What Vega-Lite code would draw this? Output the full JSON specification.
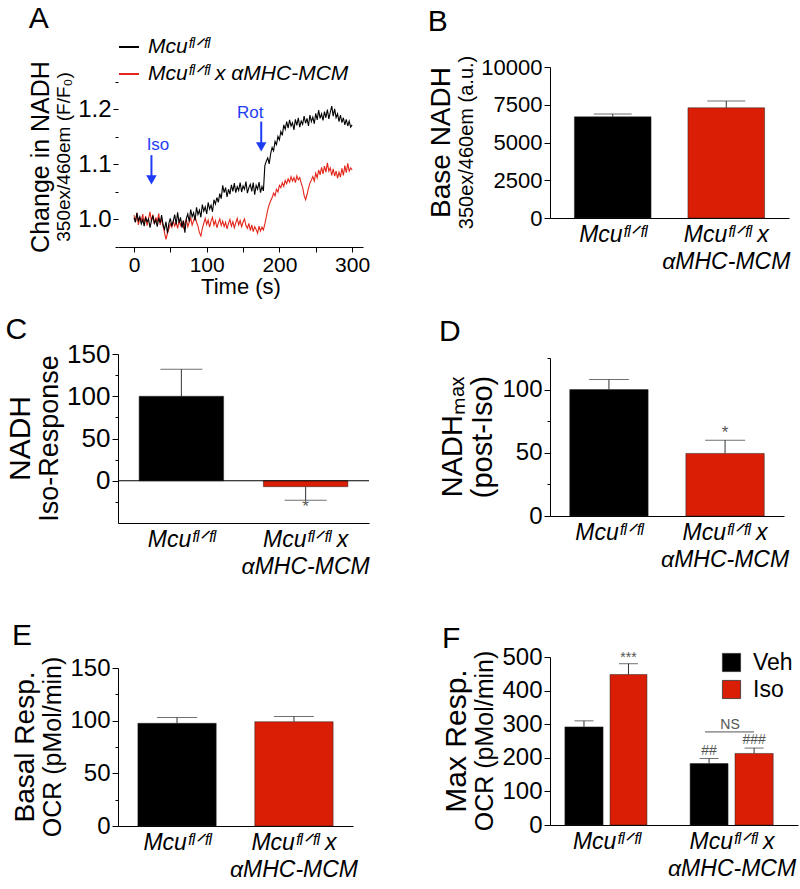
{
 "$schema": "https://vega.github.io/schema/vega-lite/v6.json",
 "background": "white",
 "padding": {"left": 5, "top": 4, "right": 5, "bottom": 0},
 "spacing": 57,
 "resolve": {"scale": {"color": "independent", "x": "independent", "y": "independent"}, "legend": {"color": "independent"}},
 "hconcat": [
  {
   "resolve": {"scale": {"color": "independent", "x": "independent", "y": "independent"}, "legend": {"color": "independent"}},
   "spacing": 18,
   "vconcat": [
    {
     "title": {"text": "A", "anchor": "start", "fontSize": 30, "offset": 2},
     "vconcat": [{
      "width": 245, "height": 180,
      "title": {"text": "Change in NADH", "subtitle": "350ex/460em (F/F₀)", "orient": "left", "anchor": "middle", "fontSize": 25, "subtitleFontSize": 19, "offset": 4, "subtitlePadding": 1},
      "layer": [
       {
        "data": {"name": "trace"},
        "transform": [{"fold": ["r", "b"], "as": ["k", "v"]}],
        "mark": {"type": "line", "strokeWidth": 1.1},
        "encoding": {
         "x": {"field": "t", "type": "quantitative", "scale": {"domain": [-22, 315], "nice": false},
               "axis": {"values": [0, 50, 100, 150, 200, 250, 300], "tickCount": 50, "labelExpr": "datum.value % 100 === 0 ? datum.label : ''", "labelOverlap": false,
                        "tickSize": 5, "labelFontSize": 21, "title": "Time (s)", "titleFontSize": 22, "titlePadding": 1, "labelPadding": 2}},
         "y": {"field": "v", "type": "quantitative", "scale": {"domain": [0.95, 1.27727], "nice": false, "zero": false},
               "axis": {"values": [0.95, 1.0, 1.05, 1.1, 1.15, 1.2, 1.25], "tickCount": 50, "format": ".1f", "domain": false, "labelOverlap": false,
                        "labelExpr": "(datum.value > 0.97 && datum.value < 1.23 && abs(datum.value*10 - round(datum.value*10)) < 0.001) ? datum.label : ''",
                        "tickSize": {"condition": {"test": "abs(datum.value*10 - round(datum.value*10)) > 0.001", "value": 3}, "value": 5},
                        "labelFontSize": 24, "title": null}},
         "color": {"field": "k", "type": "nominal", "scale": {"domain": ["b", "r"], "range": ["#000000", "#e3261a"]},
                   "legend": {"title": null, "orient": "top", "direction": "vertical", "symbolType": "stroke", "symbolSize": 400, "symbolStrokeWidth": 2,
                              "labelFontSize": 21, "labelFontStyle": "italic", "labelOffset": 8, "rowPadding": 6, "padding": 0, "offset": -23, "labelLimit": 400,
                              "labelExpr": "datum.value == 'b' ? 'Mcuᶠˡᐟᶠˡ' : 'Mcuᶠˡᐟᶠˡ x αMHC-MCM'"}}
        }
       },
       {
        "mark": {"type": "rule", "color": "#000", "strokeWidth": 1},
        "encoding": {"x": {"datum": -22, "type": "quantitative"}, "y": {"datum": 0.95, "type": "quantitative"}, "y2": {"datum": 1.25}}
       },
       {
        "data": {"name": "arrows"},
        "mark": {"type": "rule", "color": "#1f3cf5", "strokeWidth": 2},
        "encoding": {"x": {"field": "t", "type": "quantitative"}, "y": {"field": "y1", "type": "quantitative"}, "y2": {"field": "y2"}}
       },
       {
        "data": {"name": "arrows"},
        "mark": {"type": "point", "shape": "triangle-down", "filled": true, "color": "#1f3cf5", "size": 110, "opacity": 1},
        "encoding": {"x": {"field": "t", "type": "quantitative"}, "y": {"field": "y2", "type": "quantitative"}}
       },
       {
        "data": {"name": "arrows"},
        "mark": {"type": "text", "color": "#1f3cf5", "fontSize": 17, "align": "center", "baseline": "middle"},
        "encoding": {"x": {"field": "tx", "type": "quantitative"}, "y": {"field": "ty", "type": "quantitative"}, "text": {"field": "label"}}
       }
      ]
     }]
    },
    {
     "resolve": {"scale": {"color": "independent", "x": "independent", "y": "independent"}, "legend": {"color": "independent"}},
     "spacing": 43,
     "vconcat": [
      {
       "title": {"text": "C", "anchor": "start", "fontSize": 30, "offset": -4},
       "vconcat": [{
        "width": 251, "height": 169,
        "title": {"text": "NADH", "subtitle": "Iso-Response", "orient": "left", "anchor": "middle", "fontSize": 30, "subtitleFontSize": 27, "offset": 4, "subtitlePadding": 1},
        "data": {"name": "C"},
        "layer": [
         {
          "mark": {"type": "bar", "stroke": "#222", "strokeWidth": 0.5},
          "encoding": {
           "x": {"field": "g", "type": "nominal", "scale": {"paddingInner": 0.32, "paddingOuter": 0.17},
                 "axis": {"title": null, "ticks": false, "labelAngle": 0, "labelFontSize": 23, "labelFontStyle": "italic", "labelPadding": 5, "labelBaseline": "top", "labelLineHeight": 27,
                          "labelExpr": "datum.value == 'a' ? 'Mcuᶠˡᐟᶠˡ' : ['Mcuᶠˡᐟᶠˡ x', 'αMHC-MCM']"}},
           "y": {"field": "m", "type": "quantitative", "scale": {"domain": [-50, 150], "nice": false},
                 "axis": {"values": [-25, 0, 25, 50, 75, 100, 125, 150], "tickCount": 50, "labelExpr": "datum.value % 50 === 0 ? datum.label : ''", "labelOverlap": false,
                          "tickSize": {"condition": {"test": "datum.value % 50 !== 0", "value": 3}, "value": 6},
                          "labelFontSize": 26, "title": null}},
           "color": {"field": "g", "type": "nominal", "scale": {"domain": ["a", "b"], "range": ["#000000", "#da1e05"]}, "legend": null}
          }
         },
         {
          "mark": {"type": "rule", "color": "#333", "strokeWidth": 1},
          "encoding": {"x": {"field": "g", "type": "nominal"}, "y": {"field": "m", "type": "quantitative"}, "y2": {"field": "e"}}
         },
         {
          "mark": {"type": "tick", "orient": "horizontal", "color": "#333", "thickness": 1, "size": 42},
          "encoding": {"x": {"field": "g", "type": "nominal"}, "y": {"field": "e", "type": "quantitative"}}
         },
         {
          "data": {"values": [{"g": "b", "y": -31, "s": "*"}]},
          "mark": {"type": "text", "fontSize": 17, "color": "#555", "baseline": "middle"},
          "encoding": {"x": {"field": "g", "type": "nominal"}, "y": {"field": "y", "type": "quantitative"}, "text": {"field": "s"}}
         },
         {
          "data": {"values": [{"z": 0}]},
          "mark": {"type": "rule", "color": "#000", "strokeWidth": 1},
          "encoding": {"x": {"datum": 0, "type": "quantitative", "scale": null}, "x2": {"datum": 251}, "y": {"field": "z", "type": "quantitative"}}
         }
        ]
       }]
      },
      {
       "title": {"text": "E", "anchor": "start", "fontSize": 30, "offset": 5},
       "vconcat": [{
        "width": 235, "height": 158,
        "title": {"text": "Basal Resp.", "subtitle": "OCR (pMol/min)", "orient": "left", "anchor": "middle", "fontSize": 28, "subtitleFontSize": 25, "offset": 4, "subtitlePadding": 1},
        "data": {"name": "E"},
        "layer": [
         {
          "mark": {"type": "bar", "stroke": "#222", "strokeWidth": 0.5},
          "encoding": {
           "x": {"field": "g", "type": "nominal", "scale": {"paddingInner": 0.33, "paddingOuter": 0.17},
                 "axis": {"title": null, "ticks": false, "labelAngle": 0, "labelFontSize": 23, "labelFontStyle": "italic", "labelPadding": 5, "labelBaseline": "top", "labelLineHeight": 27,
                          "labelExpr": "datum.value == 'a' ? 'Mcuᶠˡᐟᶠˡ' : ['Mcuᶠˡᐟᶠˡ x', 'αMHC-MCM']"}},
           "y": {"field": "m", "type": "quantitative", "scale": {"domain": [0, 150], "nice": false},
                 "axis": {"values": [0, 25, 50, 75, 100, 125, 150], "tickCount": 50, "labelExpr": "datum.value % 50 === 0 ? datum.label : ''", "labelOverlap": false,
                          "tickSize": {"condition": {"test": "datum.value % 50 !== 0", "value": 3}, "value": 6},
                          "labelFontSize": 24, "title": null}},
           "color": {"field": "g", "type": "nominal", "scale": {"domain": ["a", "b"], "range": ["#000000", "#da1e05"]}, "legend": null}
          }
         },
         {
          "mark": {"type": "rule", "color": "#333", "strokeWidth": 1},
          "encoding": {"x": {"field": "g", "type": "nominal"}, "y": {"field": "m", "type": "quantitative"}, "y2": {"field": "e"}}
         },
         {
          "mark": {"type": "tick", "orient": "horizontal", "color": "#333", "thickness": 1, "size": 40},
          "encoding": {"x": {"field": "g", "type": "nominal"}, "y": {"field": "e", "type": "quantitative"}}
         }
        ]
       }]
      }
     ]
    }
   ]
  },
  {
   "resolve": {"scale": {"color": "independent", "x": "independent", "y": "independent"}, "legend": {"color": "independent"}},
   "spacing": 44,
   "vconcat": [
    {
     "title": {"text": "B", "anchor": "start", "fontSize": 30, "offset": 19},
     "vconcat": [{
      "width": 239, "height": 151,
      "title": {"text": "Base NADH", "subtitle": "350ex/460em (a.u.)", "orient": "left", "anchor": "middle", "fontSize": 28, "subtitleFontSize": 20, "offset": 4, "subtitlePadding": 1},
      "data": {"name": "B"},
      "layer": [
       {
        "mark": {"type": "bar", "stroke": "#222", "strokeWidth": 0.5},
        "encoding": {
         "x": {"field": "g", "type": "nominal", "scale": {"paddingInner": 0.325, "paddingOuter": 0.215},
               "axis": {"title": null, "ticks": false, "labelAngle": 0, "labelFontSize": 23, "labelFontStyle": "italic", "labelPadding": 5, "labelBaseline": "top", "labelLineHeight": 27,
                        "labelExpr": "datum.value == 'a' ? 'Mcuᶠˡᐟᶠˡ' : ['Mcuᶠˡᐟᶠˡ x', 'αMHC-MCM']"}},
         "y": {"field": "m", "type": "quantitative", "scale": {"domain": [0, 10000], "nice": false},
               "axis": {"values": [0, 2500, 5000, 7500, 10000], "tickCount": 50, "tickSize": 6, "labelFontSize": 22, "title": null, "format": "d", "labelOverlap": false}},
         "color": {"field": "g", "type": "nominal", "scale": {"domain": ["a", "b"], "range": ["#000000", "#da1e05"]}, "legend": null}
        }
       },
       {
        "mark": {"type": "rule", "color": "#333", "strokeWidth": 1},
        "encoding": {"x": {"field": "g", "type": "nominal"}, "y": {"field": "m", "type": "quantitative"}, "y2": {"field": "e"}}
       },
       {
        "mark": {"type": "tick", "orient": "horizontal", "color": "#333", "thickness": 1, "size": 38},
        "encoding": {"x": {"field": "g", "type": "nominal"}, "y": {"field": "e", "type": "quantitative"}}
       }
      ]
     }]
    },
    {
     "resolve": {"scale": {"color": "independent", "x": "independent", "y": "independent"}, "legend": {"color": "independent"}},
     "spacing": 53,
     "vconcat": [
      {
       "title": {"text": "D", "anchor": "start", "fontSize": 30, "offset": -1},
       "vconcat": [{
        "width": 234, "height": 158,
        "title": {"text": "NADHₘₐₓ", "subtitle": "(post-Iso)", "orient": "left", "anchor": "middle", "fontSize": 29, "subtitleFontSize": 29, "offset": 4, "subtitlePadding": 1},
        "data": {"name": "D"},
        "layer": [
         {
          "mark": {"type": "bar", "stroke": "#222", "strokeWidth": 0.5},
          "encoding": {
           "x": {"field": "g", "type": "nominal", "scale": {"paddingInner": 0.325, "paddingOuter": 0.17},
                 "axis": {"title": null, "ticks": false, "labelAngle": 0, "labelFontSize": 23, "labelFontStyle": "italic", "labelPadding": 5, "labelBaseline": "top", "labelLineHeight": 27,
                          "labelExpr": "datum.value == 'a' ? 'Mcuᶠˡᐟᶠˡ' : ['Mcuᶠˡᐟᶠˡ x', 'αMHC-MCM']"}},
           "y": {"field": "m", "type": "quantitative", "scale": {"domain": [0, 125], "nice": false},
                 "axis": {"values": [0, 25, 50, 75, 100, 125], "tickCount": 50, "labelExpr": "datum.value % 50 === 0 ? datum.label : ''", "labelOverlap": false,
                          "tickSize": {"condition": {"test": "datum.value % 50 !== 0", "value": 3}, "value": 6},
                          "labelFontSize": 24, "title": null}},
           "color": {"field": "g", "type": "nominal", "scale": {"domain": ["a", "b"], "range": ["#000000", "#da1e05"]}, "legend": null}
          }
         },
         {
          "mark": {"type": "rule", "color": "#333", "strokeWidth": 1},
          "encoding": {"x": {"field": "g", "type": "nominal"}, "y": {"field": "m", "type": "quantitative"}, "y2": {"field": "e"}}
         },
         {
          "mark": {"type": "tick", "orient": "horizontal", "color": "#333", "thickness": 1, "size": 40},
          "encoding": {"x": {"field": "g", "type": "nominal"}, "y": {"field": "e", "type": "quantitative"}}
         },
         {
          "data": {"values": [{"g": "b", "y": 66, "s": "*"}]},
          "mark": {"type": "text", "fontSize": 17, "color": "#555", "baseline": "middle"},
          "encoding": {"x": {"field": "g", "type": "nominal"}, "y": {"field": "y", "type": "quantitative"}, "text": {"field": "s"}}
         }
        ]
       }]
      },
      {
       "title": {"text": "F", "anchor": "start", "fontSize": 30, "offset": -9},
       "vconcat": [{
        "width": 248, "height": 168,
        "title": {"text": "Max Resp.", "subtitle": "OCR (pMol/min)", "orient": "left", "anchor": "middle", "fontSize": 30, "subtitleFontSize": 25, "offset": 4, "subtitlePadding": 1},
        "data": {"name": "F"},
        "layer": [
         {
          "mark": {"type": "bar", "stroke": "#222", "strokeWidth": 0.5},
          "encoding": {
           "x": {"field": "x0", "type": "quantitative", "scale": {"domain": [0, 10], "nice": false},
                 "axis": {"title": null, "ticks": false, "grid": false, "values": [2.26, 7.32], "tickCount": 50, "labelAngle": 0, "labelFontSize": 23, "labelFontStyle": "italic", "labelPadding": 5, "labelBaseline": "top", "labelLineHeight": 27, "labelOverlap": false,
                          "labelExpr": "datum.value < 5 ? 'Mcuᶠˡᐟᶠˡ' : ['Mcuᶠˡᐟᶠˡ x', 'αMHC-MCM']"}},
           "x2": {"field": "x1"},
           "y": {"field": "m", "type": "quantitative", "scale": {"domain": [0, 500], "nice": false},
                 "axis": {"values": [0, 100, 200, 300, 400, 500], "tickCount": 50, "tickSize": 6, "labelFontSize": 24, "title": null, "labelOverlap": false}},
           "y2": {"datum": 0},
           "color": {"field": "c", "type": "nominal", "scale": {"domain": ["Veh", "Iso"], "range": ["#000000", "#da1e05"]},
                     "legend": {"title": null, "orient": "none", "legendX": 170, "legendY": -6, "direction": "vertical", "symbolType": "square", "symbolSize": 330,
                                "symbolStrokeColor": "#333", "symbolStrokeWidth": 0.8, "labelFontSize": 23, "labelOffset": 10, "rowPadding": 3, "padding": 0}}
          }
         },
         {
          "mark": {"type": "rule", "color": "#333", "strokeWidth": 1},
          "encoding": {"x": {"field": "xc", "type": "quantitative"}, "y": {"field": "m", "type": "quantitative"}, "y2": {"field": "e"}}
         },
         {
          "mark": {"type": "tick", "orient": "horizontal", "color": "#333", "thickness": 1, "size": 19},
          "encoding": {"x": {"field": "xc", "type": "quantitative"}, "y": {"field": "e", "type": "quantitative"}}
         },
         {
          "data": {"name": "Fnote"},
          "mark": {"type": "text", "fontSize": 14, "color": "#555", "baseline": "middle"},
          "encoding": {"x": {"field": "xc", "type": "quantitative"}, "y": {"field": "y", "type": "quantitative"}, "text": {"field": "s"}}
         },
         {
          "data": {"values": [{"xa": 6.25, "xb": 8.23, "y": 277}]},
          "mark": {"type": "rule", "color": "#555", "strokeWidth": 1},
          "encoding": {"x": {"field": "xa", "type": "quantitative"}, "x2": {"field": "xb"}, "y": {"field": "y", "type": "quantitative"}}
         }
        ]
       }]
      }
     ]
    }
   ]
  }
 ],
 "datasets": {
  "B": [{"g": "a", "m": 6700, "e": 6880}, {"g": "b", "m": 7300, "e": 7750}],
  "C": [{"g": "a", "m": 100, "e": 132}, {"g": "b", "m": -7, "e": -23}],
  "D": [{"g": "a", "m": 100, "e": 108}, {"g": "b", "m": 49.5, "e": 60}],
  "E": [{"g": "a", "m": 97.5, "e": 103}, {"g": "b", "m": 99, "e": 104}],
  "F": [
   {"c": "Veh", "x0": 0.6, "x1": 2.14, "xc": 1.37, "m": 292, "e": 310},
   {"c": "Iso", "x0": 2.42, "x1": 3.91, "xc": 3.165, "m": 448, "e": 480},
   {"c": "Veh", "x0": 5.65, "x1": 7.18, "xc": 6.415, "m": 183, "e": 198},
   {"c": "Iso", "x0": 7.46, "x1": 9.0, "xc": 8.23, "m": 213, "e": 229}
  ],
  "Fnote": [
   {"xc": 3.165, "y": 496, "s": "***"},
   {"xc": 6.415, "y": 220, "s": "##"},
   {"xc": 8.23, "y": 253, "s": "###"},
   {"xc": 7.26, "y": 298, "s": "NS"}
  ],
  "arrows": [
   {"t": 24, "y1": 1.117, "y2": 1.072, "tx": 33, "ty": 1.136, "label": "Iso"},
   {"t": 175, "y1": 1.178, "y2": 1.132, "tx": 160, "ty": 1.193, "label": "Rot"}
  ],
  "trace": [
   {"t":0,"b":1.003,"r":1.008},{"t":2,"b":0.995,"r":0.995},{"t":4,"b":1.012,"r":1.012},{"t":6,"b":0.998,"r":0.990},{"t":8,"b":1.005,"r":1.003},
   {"t":10,"b":0.992,"r":0.998},{"t":12,"b":1.000,"r":1.010},{"t":14,"b":0.988,"r":0.993},{"t":16,"b":1.004,"r":1.006},{"t":18,"b":0.996,"r":0.989},
   {"t":20,"b":1.001,"r":1.001},{"t":22,"b":0.985,"r":1.014},{"t":24,"b":0.998,"r":0.997},{"t":26,"b":1.007,"r":1.009},{"t":28,"b":0.993,"r":0.992},
   {"t":30,"b":0.999,"r":1.004},{"t":32,"b":0.987,"r":0.995},{"t":34,"b":1.003,"r":1.011},{"t":36,"b":0.994,"r":0.990},{"t":38,"b":1.008,"r":1.002},
   {"t":40,"b":0.990,"r":0.988},{"t":42,"b":0.982,"r":0.976},{"t":44,"b":0.996,"r":0.964},{"t":46,"b":0.975,"r":0.975},{"t":48,"b":0.993,"r":0.983},
   {"t":50,"b":1.002,"r":0.992},{"t":52,"b":0.988,"r":0.986},{"t":54,"b":0.997,"r":0.997},{"t":56,"b":1.009,"r":0.988},{"t":58,"b":0.991,"r":0.995},
   {"t":60,"b":1.013,"r":0.984},{"t":62,"b":0.994,"r":0.998},{"t":64,"b":1.004,"r":0.989},{"t":66,"b":0.985,"r":0.996},{"t":68,"b":0.998,"r":0.985},
   {"t":70,"b":0.976,"r":0.993},{"t":72,"b":1.002,"r":1.000},{"t":74,"b":1.010,"r":0.987},{"t":76,"b":0.996,"r":0.995},{"t":78,"b":1.018,"r":1.003},
   {"t":80,"b":1.005,"r":0.990},{"t":82,"b":1.012,"r":0.998},{"t":84,"b":0.998,"r":1.006},{"t":86,"b":1.022,"r":0.995},{"t":88,"b":1.009,"r":0.988},
   {"t":90,"b":1.017,"r":0.976},{"t":92,"b":1.004,"r":0.970},{"t":94,"b":1.027,"r":0.984},{"t":96,"b":1.015,"r":0.993},{"t":98,"b":1.023,"r":1.002},
   {"t":100,"b":1.010,"r":0.991},{"t":102,"b":1.031,"r":0.999},{"t":104,"b":1.019,"r":0.986},{"t":106,"b":1.026,"r":0.997},{"t":108,"b":1.014,"r":1.004},
   {"t":110,"b":1.036,"r":0.990},{"t":112,"b":1.028,"r":0.998},{"t":114,"b":1.040,"r":0.985},{"t":116,"b":1.031,"r":0.994},{"t":118,"b":1.047,"r":1.001},
   {"t":120,"b":1.038,"r":0.989},{"t":122,"b":1.062,"r":0.997},{"t":124,"b":1.049,"r":0.987},{"t":126,"b":1.058,"r":0.995},{"t":128,"b":1.041,"r":0.983},
   {"t":130,"b":1.055,"r":0.993},{"t":132,"b":1.046,"r":1.000},{"t":134,"b":1.063,"r":0.988},{"t":136,"b":1.051,"r":0.996},{"t":138,"b":1.066,"r":0.985},
   {"t":140,"b":1.049,"r":0.994},{"t":142,"b":1.060,"r":1.002},{"t":144,"b":1.053,"r":0.990},{"t":146,"b":1.067,"r":0.998},{"t":148,"b":1.050,"r":0.987},
   {"t":150,"b":1.061,"r":0.995},{"t":152,"b":1.055,"r":1.001},{"t":154,"b":1.069,"r":0.989},{"t":156,"b":1.048,"r":0.984},{"t":158,"b":1.058,"r":0.993},
   {"t":160,"b":1.064,"r":0.980},{"t":162,"b":1.051,"r":0.990},{"t":164,"b":1.067,"r":0.978},{"t":166,"b":1.045,"r":0.987},{"t":168,"b":1.062,"r":0.982},
   {"t":170,"b":1.055,"r":0.975},{"t":172,"b":1.068,"r":0.988},{"t":174,"b":1.049,"r":0.979},{"t":176,"b":1.060,"r":0.986},{"t":178,"b":1.052,"r":0.981},
   {"t":180,"b":1.098,"r":0.992},{"t":182,"b":1.106,"r":1.005},{"t":184,"b":1.112,"r":1.018},{"t":186,"b":1.101,"r":1.027},{"t":188,"b":1.120,"r":1.034},
   {"t":190,"b":1.131,"r":1.040},{"t":192,"b":1.125,"r":1.048},{"t":194,"b":1.142,"r":1.043},{"t":196,"b":1.136,"r":1.055},{"t":198,"b":1.151,"r":1.050},
   {"t":200,"b":1.145,"r":1.062},{"t":202,"b":1.160,"r":1.058},{"t":204,"b":1.153,"r":1.067},{"t":206,"b":1.172,"r":1.060},{"t":208,"b":1.164,"r":1.071},
   {"t":210,"b":1.178,"r":1.065},{"t":212,"b":1.166,"r":1.074},{"t":214,"b":1.181,"r":1.068},{"t":216,"b":1.170,"r":1.078},{"t":218,"b":1.176,"r":1.070},
   {"t":220,"b":1.163,"r":1.076},{"t":222,"b":1.182,"r":1.067},{"t":224,"b":1.171,"r":1.079},{"t":226,"b":1.185,"r":1.072},{"t":228,"b":1.168,"r":1.076},
   {"t":230,"b":1.179,"r":1.066},{"t":232,"b":1.173,"r":1.058},{"t":234,"b":1.188,"r":1.044},{"t":236,"b":1.175,"r":1.036},{"t":238,"b":1.184,"r":1.045},
   {"t":240,"b":1.170,"r":1.057},{"t":242,"b":1.190,"r":1.066},{"t":244,"b":1.178,"r":1.072},{"t":246,"b":1.186,"r":1.078},{"t":248,"b":1.174,"r":1.070},
   {"t":250,"b":1.193,"r":1.084},{"t":252,"b":1.181,"r":1.076},{"t":254,"b":1.199,"r":1.090},{"t":256,"b":1.184,"r":1.081},{"t":258,"b":1.192,"r":1.095},
   {"t":260,"b":1.180,"r":1.083},{"t":262,"b":1.196,"r":1.097},{"t":264,"b":1.185,"r":1.086},{"t":266,"b":1.200,"r":1.103},{"t":268,"b":1.183,"r":1.088},
   {"t":270,"b":1.195,"r":1.094},{"t":272,"b":1.206,"r":1.080},{"t":274,"b":1.188,"r":1.092},{"t":276,"b":1.201,"r":1.079},{"t":278,"b":1.185,"r":1.088},
   {"t":280,"b":1.192,"r":1.075},{"t":282,"b":1.178,"r":1.086},{"t":284,"b":1.190,"r":1.077},{"t":286,"b":1.176,"r":1.093},{"t":288,"b":1.185,"r":1.080},
   {"t":290,"b":1.172,"r":1.098},{"t":292,"b":1.182,"r":1.085},{"t":294,"b":1.170,"r":1.102},{"t":296,"b":1.179,"r":1.088},{"t":298,"b":1.168,"r":1.094},
   {"t":300,"b":1.172,"r":1.090}
  ]
 },
 "config": {
  "font": "Liberation Sans",
  "view": {"stroke": null},
  "axis": {"grid": false, "domainColor": "#000", "tickColor": "#000", "labelColor": "#000", "titleColor": "#000", "labelOverlap": false,
           "labelFont": "Liberation Sans", "titleFont": "Liberation Sans", "titleFontWeight": "normal", "labelPadding": 2, "domainWidth": 1, "tickWidth": 1},
  "title": {"font": "Liberation Sans", "fontWeight": "normal", "color": "#000", "subtitleFont": "Liberation Sans", "subtitleColor": "#000"},
  "legend": {"labelFont": "Liberation Sans", "labelColor": "#000"},
  "text": {"font": "Liberation Sans"}
 }
}
